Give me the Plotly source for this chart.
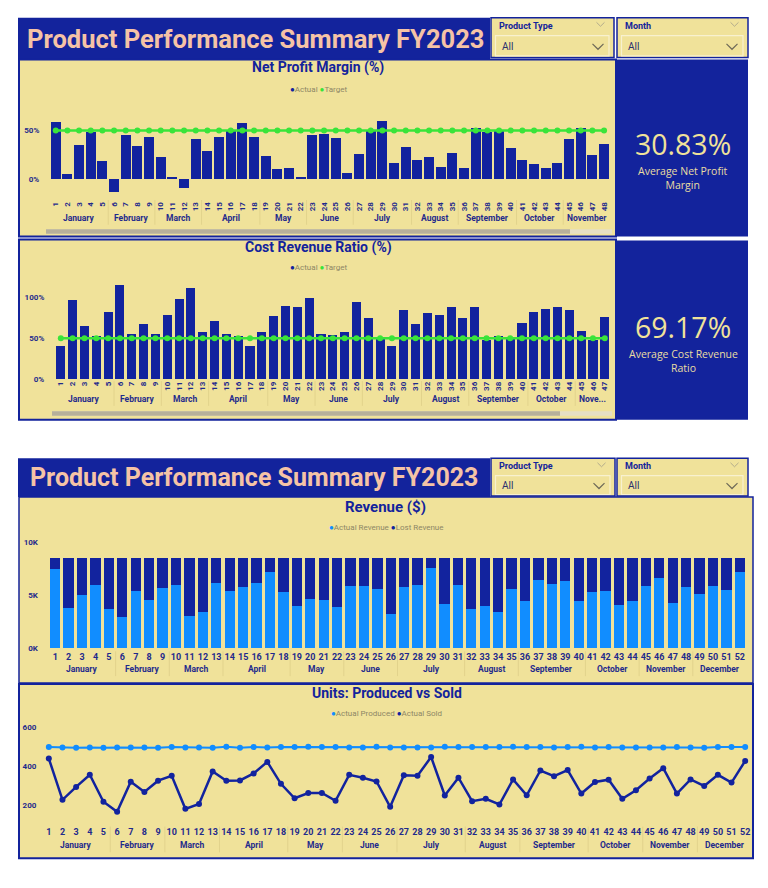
import plotly.graph_objects as go

W, H = 768, 888
NAVY = "#13239C"
BAR_NAVY = "#12239E"
YEL = "#F0E29A"
GREEN = "#3AE43A"
LBLUE = "#118DFF"
PEACH = "#F5C3A6"
GRAYTXT = "#8E8766"
TICK = "#1F2A8C"

# ---------------- data ----------------
weeks = [1, 2, 3, 4, 5, 6, 7, 8, 9, 10, 11, 12, 13, 14, 15, 16, 17, 18, 19, 20, 21, 22, 23, 24, 25, 26,
         27, 28, 29, 30, 31, 32, 33, 34, 35, 36, 37, 38, 39, 40, 41, 42, 43, 44, 45, 46, 47, 48, 49, 50, 51, 52]
month_names = ["January", "February", "March", "April", "May", "June", "July", "August",
               "September", "October", "November", "December"]
month_first_week = [1, 6, 10, 14, 19, 23, 27, 32, 36, 41, 45, 49]
month_last_week = [5, 9, 13, 18, 22, 26, 31, 35, 40, 44, 48, 52]

net_profit_actual = [58.9, 5.1, 35.3, 48.6, 18.5, -13.4, 45.5, 34.2, 43.5, 22.6, 2.1, -9.2, 41.4, 29.1, 43.5, 49.3,
                     57.9, 43.5, 24.0, 10.3, 11.3, 2.1, 45.5, 46.6, 42.5, 6.2, 26.0, 49.0, 60.0, 16.4, 33.2, 19.5,
                     22.6, 12.3, 26.7, 11.3, 52.7, 47.9, 49.0, 31.8, 19.5, 15.4, 11.3, 16.4, 41.4, 52.7, 25.0, 36.3]
net_profit_target = [50, 50, 50, 50, 50, 50, 50, 50, 50, 50, 50, 50, 50, 50, 50, 50, 50, 50, 50, 50, 50, 50, 50, 50,
                     50, 50, 50, 50, 50, 50, 50, 50, 50, 50, 50, 50, 50, 50, 50, 50, 50, 50, 50, 50, 50, 50, 50, 50]

cost_ratio_actual = [39.9, 96.4, 64.5, 52.4, 81.5, 114.5, 54.8, 66.9, 55.6, 77.8, 97.6, 110.9, 58.1, 70.6, 55.6, 52.4,
                     41.1, 57.3, 76.6, 89.9, 88.7, 98.8, 54.8, 53.6, 57.3, 94.0, 74.2, 49.2, 40.3, 83.9, 66.9, 80.2,
                     77.8, 87.9, 74.2, 88.7, 47.6, 52.4, 49.2, 68.1, 81.5, 85.1, 88.7, 83.9, 58.5, 47.6, 75.4]
cost_ratio_target = [50, 50, 50, 50, 50, 50, 50, 50, 50, 50, 50, 50, 50, 50, 50, 50, 50, 50, 50, 50, 50, 50, 50, 50,
                     50, 50, 50, 50, 50, 50, 50, 50, 50, 50, 50, 50, 50, 50, 50, 50, 50, 50, 50, 50, 50, 50, 50]

revenue_actual = [7500, 3780, 5030, 5970, 3720, 2940, 5400, 4560, 5690, 5970, 3030, 3400, 6160, 5400, 5780, 6160,
                  7220, 5310, 4000, 4660, 4560, 3900, 5880, 5880, 5600, 3200, 5780, 5970, 7560, 4190, 5970, 3690,
                  3970, 3400, 5600, 4440, 6440, 6060, 6340, 4440, 5310, 5400, 4060, 4440, 5880, 6630, 4250, 5780,
                  5130, 5880, 5500, 7220]
revenue_lost = [1000, 4720, 3470, 2530, 4780, 5560, 3100, 3940, 2810, 2530, 5470, 5100, 2340, 3100, 2720, 2340,
                1280, 3190, 4500, 3840, 3940, 4600, 2620, 2620, 2900, 5300, 2720, 2530, 940, 4310, 2530, 4810,
                4530, 5100, 2900, 4060, 2060, 2440, 2160, 4060, 3190, 3100, 4440, 4060, 2620, 1870, 4250, 2720,
                3370, 2620, 3000, 1280]

units_produced = [499, 497, 495, 497, 495, 497, 497, 497, 495, 499, 497, 497, 495, 500, 495, 499, 497, 499, 499, 500,
                  499, 499, 497, 497, 500, 497, 497, 497, 497, 500, 499, 499, 499, 499, 500, 499, 499, 497, 499, 500,
                  497, 499, 497, 497, 497, 497, 499, 497, 495, 499, 499, 499]
units_sold = [440, 229, 295, 357, 219, 168, 322, 269, 327, 352, 183, 208, 374, 327, 328, 364, 423, 311, 237, 264,
              264, 224, 357, 342, 323, 193, 355, 352, 448, 251, 342, 222, 234, 205, 333, 252, 379, 350, 381, 261,
              320, 332, 234, 278, 338, 391, 261, 333, 300, 357, 317, 428]

kpi_values = ["30.83%", "69.17%"]
kpi_labels = ["Average Net Profit<br>Margin", "Average Cost Revenue<br>Ratio"]
dashboard_title = "Product Performance Summary FY2023"

# ---------------- helpers ----------------
def X(px):
    return px / W


def Y(py):
    return 1 - py / H


shapes = []
annotations = []


def rect(x0, y0, x1, y1, fill, line=None, lw=0, layer="below"):
    shapes.append(dict(type="rect", xref="paper", yref="paper", x0=X(x0), x1=X(x1), y0=Y(y1), y1=Y(y0),
                       fillcolor=fill, line=dict(color=line if line else fill, width=lw), layer=layer))


def chevron(cx, cy, w, h, color, lw=1):
    p = "M {},{} L {},{} L {},{}".format(X(cx - w / 2), Y(cy - h / 2), X(cx), Y(cy + h / 2), X(cx + w / 2), Y(cy - h / 2))
    shapes.append(dict(type="path", xref="paper", yref="paper", path=p, line=dict(color=color, width=lw), layer="above"))


def text(t, x, y, size, color, family="Roboto", xanchor="center", bold=False):
    annotations.append(dict(text=("<b>%s</b>" % t) if bold else t, x=X(x), y=Y(y), xref="paper", yref="paper",
                            xanchor=xanchor, yanchor="middle", showarrow=False,
                            font=dict(size=size, color=color, family=family), align="center"))


def month_labels(axis_id, last_w, y_lab, y_sep0, y_sep1, size, names=None):
    xref = "x" if axis_id == 1 else "x%d" % axis_id
    for i, nm in enumerate(month_names):
        f, l = month_first_week[i], month_last_week[i]
        if f > last_w:
            break
        l2 = min(l, last_w)
        label = names.get(nm, nm) if names else nm
        annotations.append(dict(text="<b>%s</b>" % label, x=(f + l2) / 2, y=Y(y_lab), xref=xref, yref="paper",
                                showarrow=False, xanchor="center", yanchor="middle",
                                font=dict(size=size, color=TICK, family="Roboto")))
        if i > 0:
            shapes.append(dict(type="line", xref=xref, yref="paper", x0=f - 0.5, x1=f - 0.5, y0=Y(y_sep1), y1=Y(y_sep0),
                               line=dict(color="#E2D38C", width=1), layer="below"))


def legend(items, x, y, size=8):
    parts = []
    for lab, col in items:
        parts.append('<span style="color:%s">●</span><span style="color:%s">%s</span>' % (col, GRAYTXT, lab))
    annotations.append(dict(text=" ".join(parts), x=X(x), y=Y(y), xref="paper", yref="paper", showarrow=False,
                            xanchor="center", yanchor="middle", font=dict(size=size, family="Roboto", color=GRAYTXT)))


def slicer(x0, y0, x1, y1, label, inner_top, label_y):
    rect(x0, y0, x1, y1, YEL, NAVY, 1.5)
    rect(x0 + 4.5, inner_top, x1 - 5, y1 - 1.5, YEL, "#F8F1CF", 1.2)
    text(label, x0 + 6, label_y, 9, NAVY, xanchor="left", bold=True)
    text("All", x0 + 9, (inner_top + y1) / 2, 10, "#2C2F6E", xanchor="left")
    chevron(x1 - 13.5, label_y - 1.5, 8, 4, "#B3AC8C", 1)
    chevron(x1 - 16, (inner_top + y1) / 2, 11, 5.5, "#6E6A58", 1.2)


# ---------------- top dashboard background ----------------
rect(18, 14, 490, 56, NAVY)
text(dashboard_title, 255, 35, 25.5, PEACH, bold=True)
slicer(491, 14, 614, 54, "Product Type", 32, 22)
slicer(617, 14, 748, 54, "Month", 32, 22)

rect(19, 56, 616, 235, YEL, NAVY, 2)
rect(617, 56, 748, 235, NAVY)
rect(19, 238, 616, 420, YEL, NAVY, 2)
rect(617, 239, 748, 420, NAVY)

text("Net Profit Margin (%)", 318, 64, 14, NAVY, bold=True)
legend([("Actual", BAR_NAVY), ("Target", GREEN)], 318, 86)
text("Cost Revenue Ratio (%)", 318, 246, 14, NAVY, bold=True)
legend([("Actual", BAR_NAVY), ("Target", GREEN)], 318, 266)

text(kpi_values[0], 683, 141, 28.5, YEL, family="Open Sans")
text(kpi_labels[0], 683, 176, 10.5, "#E9DDA2", family="Open Sans")
text(kpi_values[1], 683, 326, 28.5, YEL, family="Open Sans")
text(kpi_labels[1], 683, 361, 10.5, "#E9DDA2", family="Open Sans")

# scrollbars
rect(46, 227.5, 612, 232, "#E6DFC4")
rect(46, 227.5, 570, 232, "#B7B09A")
rect(52, 411.5, 612, 416, "#E6DFC4")
rect(52, 411.5, 560, 416, "#B7B09A")

# ---------------- bottom dashboard background ----------------
rect(18, 459, 490, 498, NAVY)
text(dashboard_title, 254, 478, 25, PEACH, bold=True)
slicer(491, 459, 615, 497, "Product Type", 476.5, 467)
slicer(617, 459, 748, 497, "Month", 476.5, 467)

rect(19, 498, 753, 686, YEL, NAVY, 1.5)
rect(19, 687, 753, 863, YEL, NAVY, 2)

text("Revenue ($)", 385, 508, 15, NAVY, bold=True)
legend([("Actual Revenue", LBLUE), ("Lost Revenue", BAR_NAVY)], 386, 529)
text("Units: Produced vs Sold", 387, 696, 14, NAVY, bold=True)
legend([("Actual Produced", LBLUE), ("Actual Sold", BAR_NAVY)], 386, 717)

# ---------------- traces ----------------
np_weeks = weeks[:len(net_profit_actual)]
cr_weeks = weeks[:len(cost_ratio_actual)]

fig = go.Figure()
fig.add_trace(go.Bar(x=np_weeks, y=net_profit_actual, width=0.86, marker=dict(color=BAR_NAVY, line=dict(width=0)),
                     xaxis="x", yaxis="y", showlegend=False))
fig.add_trace(go.Scatter(x=np_weeks, y=net_profit_target, mode="lines+markers", line=dict(color=GREEN, width=2.5),
                         marker=dict(size=6, color=GREEN), xaxis="x", yaxis="y", showlegend=False))
fig.add_trace(go.Bar(x=cr_weeks, y=cost_ratio_actual, width=0.77, marker=dict(color=BAR_NAVY, line=dict(width=0)),
                     xaxis="x2", yaxis="y2", showlegend=False))
fig.add_trace(go.Scatter(x=cr_weeks, y=cost_ratio_target, mode="lines+markers", line=dict(color=GREEN, width=2.5),
                         marker=dict(size=6, color=GREEN), xaxis="x2", yaxis="y2", showlegend=False))
fig.add_trace(go.Bar(x=weeks, y=revenue_actual, width=0.77, marker=dict(color=LBLUE, line=dict(width=0)),
                     xaxis="x3", yaxis="y3", showlegend=False))
fig.add_trace(go.Bar(x=weeks, y=revenue_lost, width=0.77, marker=dict(color=BAR_NAVY, line=dict(width=0)),
                     xaxis="x3", yaxis="y3", showlegend=False))
fig.add_trace(go.Scatter(x=weeks, y=units_produced, mode="lines+markers", line=dict(color=LBLUE, width=2),
                         marker=dict(size=6, color=LBLUE), xaxis="x4", yaxis="y4", showlegend=False))
fig.add_trace(go.Scatter(x=weeks, y=units_sold, mode="lines+markers", line=dict(color=BAR_NAVY, width=2.5),
                         marker=dict(size=6, color=BAR_NAVY), xaxis="x4", yaxis="y4", showlegend=False))

# month group labels
month_labels(1, 48, 216, 198, 223, 8.5)
month_labels(2, 47, 399.5, 381, 406, 8.5, names={"November": "Nove..."})
month_labels(3, 52, 671.5, 654, 679, 8.5)
month_labels(4, 52, 849.5, 831, 857, 8.5)

tickf = dict(family="Roboto", size=8, color=TICK, weight="bold")
tickf9 = dict(family="Roboto", size=9, color=TICK, weight="bold")
base_x = dict(showgrid=False, zeroline=False, showline=False, ticks="", tickmode="array", fixedrange=True)
base_y = dict(showgrid=False, zeroline=False, showline=False, ticks="outside", ticklen=8,
              tickcolor="rgba(0,0,0,0)", tickmode="array", fixedrange=True)

fig.update_layout(
    width=W, height=H, margin=dict(l=0, r=0, t=0, b=0), paper_bgcolor="white", plot_bgcolor="rgba(0,0,0,0)",
    barmode="stack", showlegend=False, shapes=shapes, annotations=annotations,
    xaxis=dict(base_x, domain=[X(49.9), X(609.9)], range=[0.5, 48.5], tickvals=np_weeks,
               ticktext=[str(w) for w in np_weeks], tickangle=-90, tickfont=tickf, anchor="y"),
    yaxis=dict(base_y, domain=[Y(197.5), Y(106.3)], range=[-21.5, 72], tickvals=[0, 50],
               ticktext=["0%", "50%"], tickfont=tickf, anchor="x"),
    xaxis2=dict(base_x, domain=[X(54.9), X(610.7)], range=[0.5, 47.5], tickvals=cr_weeks,
                ticktext=[str(w) for w in cr_weeks], tickangle=-90, tickfont=tickf, anchor="y2"),
    yaxis2=dict(base_y, domain=[Y(379), Y(275.6)], range=[0, 125], tickvals=[0, 50, 100],
                ticktext=["0%", "50%", "100%"], tickfont=tickf, anchor="x2"),
    xaxis3=dict(base_x, domain=[X(48.5), X(746.5)], range=[0.5, 52.5], tickvals=weeks,
                ticktext=[str(w) for w in weeks], tickangle=0, tickfont=tickf9, anchor="y3",
                ticklabelstandoff=2),
    yaxis3=dict(base_y, domain=[Y(650.7), Y(544)], range=[0, 10000], tickvals=[0, 5000, 10000],
                ticktext=["0K", "5K", "10K"], tickfont=tickf, anchor="x3"),
    xaxis4=dict(base_x, domain=[X(42), X(752)], range=[0.5, 52.5], tickvals=weeks,
                ticktext=[str(w) for w in weeks], tickangle=0, tickfont=tickf9, anchor="y4",
                ticklabelstandoff=4),
    yaxis4=dict(base_y, domain=[Y(825.5), Y(722.8)], range=[120, 640], tickvals=[200, 400, 600],
                ticktext=["200", "400", "600"], tickfont=tickf, anchor="x4", ticklen=3),
)

fig.write_html("out.html")
